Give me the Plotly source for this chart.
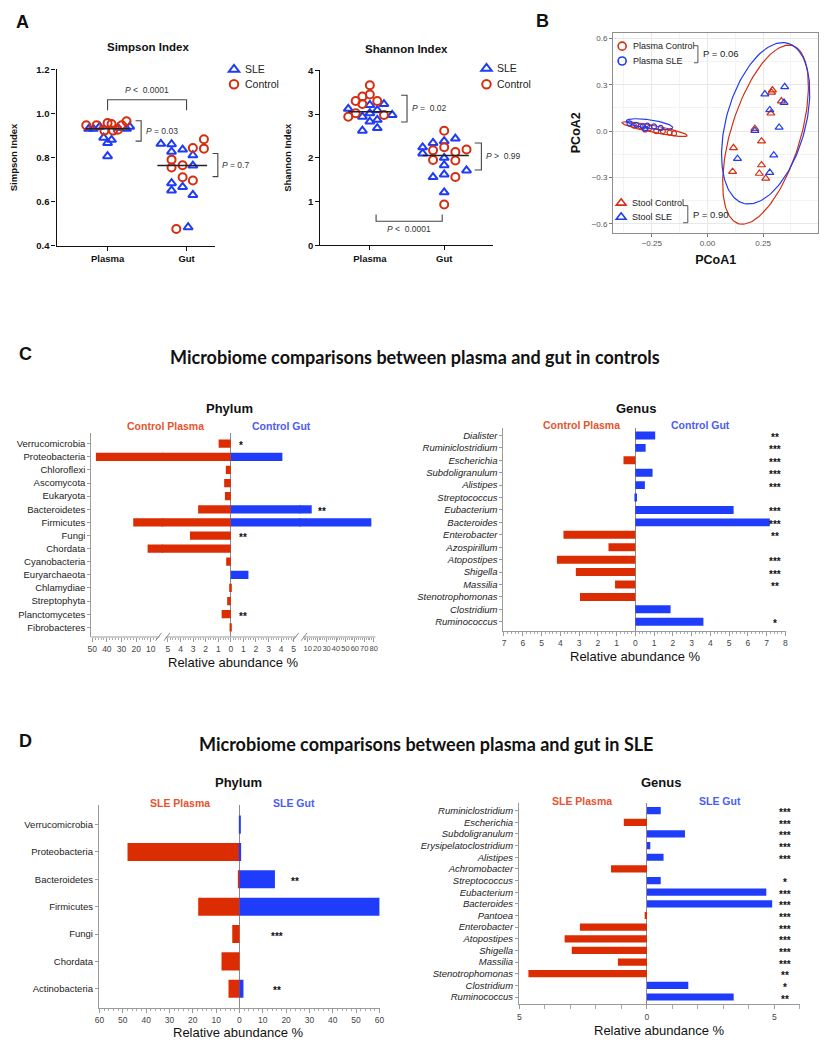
import numpy as np
import plotly.graph_objects as go

# The page body has an 8px margin, so the figure is drawn at 815x1034 and every
# position below is given in window pixels (831x1050) and converted.
WIN_W, WIN_H = 831, 1050
OFF = 8
W, H = WIN_W - 2 * OFF, WIN_H - 2 * OFF
FONT = "Liberation Sans, Arial, sans-serif"
RED = "#d42e10"
BLUE = "#1f3cf4"
BAR_RED = "#dc2c02"
BAR_BLUE = "#1f3cfa"
LBL_RED = "#e4552f"
LBL_BLUE = "#4d5cf3"

# ---------------- DATA ----------------
# Panel A - Simpson index
simp_plasma_ctrl = [0.946, 0.946, 0.956, 0.952, 0.922, 0.922, 0.926, 0.946, 0.964]
simp_plasma_sle = [0.93, 0.93, 0.94, 0.89, 0.866, 0.88, 0.806, 0.935, 0.93, 0.94]
simp_gut_ctrl = [0.79, 0.754, 0.765, 0.71, 0.843, 0.695, 0.883, 0.84, 0.475]
simp_gut_sle = [0.862, 0.86, 0.826, 0.683, 0.65, 0.836, 0.666, 0.81, 0.763, 0.63, 0.483]
# Panel A - Shannon index
shan_plasma_ctrl = [3.66, 3.45, 3.40, 3.30, 3.23, 3.30, 3.02, 2.94, 2.98]
shan_plasma_sle = [3.12, 3.21, 2.94, 3.02, 2.83, 3.09, 2.87, 2.68, 2.62, 3.23, 2.98]
shan_gut_ctrl = [2.62, 2.24, 2.17, 1.95, 2.13, 1.94, 2.19, 1.56, 0.93]
shan_gut_sle = [2.24, 2.10, 2.34, 2.38, 2.44, 2.0, 1.83, 1.62, 1.56, 1.71, 1.21]
groups = ["Plasma", "Gut"]

# Panel B - PCoA
pc_plasma_ctrl_x = [-0.33, -0.30, -0.28, -0.26, -0.23, -0.20, -0.17, -0.15]
pc_plasma_ctrl_y = [0.035, 0.03, 0.01, 0.02, 0.0, 0.0, -0.01, -0.015]
pc_plasma_sle_x = [-0.35, -0.32, -0.29, -0.27, -0.24, -0.21, -0.28]
pc_plasma_sle_y = [0.05, 0.04, 0.03, 0.035, 0.03, 0.02, 0.015]
pc_stool_ctrl_x = [0.292, 0.288, 0.332, 0.285, 0.213, 0.243, 0.117, 0.243, 0.113, 0.233, 0.262]
pc_stool_ctrl_y = [0.265, 0.25, 0.194, 0.115, 0.015, -0.066, -0.109, -0.22, -0.263, -0.275, -0.307]
pc_stool_sle_x = [0.347, 0.258, 0.344, 0.28, 0.322, 0.213, 0.135, 0.298, 0.28]
pc_stool_sle_y = [0.286, 0.239, 0.184, 0.137, 0.023, 0.002, -0.179, -0.156, -0.269]
# ellipse parameters: centre, semi-axis vector U, semi-axis vector V
ell_plasma_ctrl = [(-0.237, 0.012), (0.147, -0.042), (-0.003, -0.022)]
ell_plasma_sle = [(-0.26, 0.044), (0.104, -0.022), (-0.003, -0.028)]
ell_stool_ctrl = [(0.261, -0.0235), (0.122, 0.576), (0.149, -0.066)]
ell_stool_sle = [(0.2616, 0.050), (0.100, 0.518), (0.171, -0.069)]

# Panel C - controls
c_phy_cats = ["Verrucomicrobia", "Proteobacteria", "Chloroflexi", "Ascomycota", "Eukaryota",
              "Bacteroidetes", "Firmicutes", "Fungi", "Chordata", "Cyanobacteria",
              "Euryarchaeota", "Chlamydiae", "Streptophyta", "Planctomycetes", "Fibrobacteres"]
c_phy_plasma = [0.97, 47.5, 0.4, 0.53, 0.47, 2.6, 22.0, 3.25, 12.2, 0.37, 0, 0.13, 0.29, 0.73, 0.1]
c_phy_gut = [0, 4.1, 0, 0, 0, 14.2, 77.5, 0, 0, 0, 1.4, 0, 0, 0, 0]
c_phy_sig = ["*", "", "", "", "", "**", "", "**", "", "", "", "", "", "**", ""]

c_gen_cats = ["Dialister", "Ruminiclostridium", "Escherichia", "Subdoligranulum", "Alistipes",
              "Streptococcus", "Eubacterium", "Bacteroides", "Enterobacter", "Azospirillum",
              "Atopostipes", "Shigella", "Massilia", "Stenotrophomonas", "Clostridium", "Ruminococcus"]
c_gen_plasma = [0, 0, 0.63, 0, 0, 0, 0, 0, 3.83, 1.43, 4.18, 3.17, 1.08, 2.95, 0, 0]
c_gen_gut = [1.06, 0.55, 0, 0.92, 0.51, 0.09, 5.24, 7.17, 0, 0, 0, 0, 0, 0, 1.88, 3.63]
c_gen_sig = ["**", "***", "***", "***", "***", "", "***", "***", "**", "", "***", "***", "**", "", "", "*"]

# Panel D - SLE
d_phy_cats = ["Verrucomicrobia", "Proteobacteria", "Bacteroidetes", "Firmicutes", "Fungi",
              "Chordata", "Actinobacteria"]
d_phy_plasma = [0, 48.0, 0.7, 17.7, 3.1, 7.7, 4.7]
d_phy_gut = [0.5, 0.7, 15.2, 60.0, 0, 0, 1.7]
d_phy_sig = ["", "", "**", "***", "***", "", "**"]

d_gen_cats = ["Ruminiclostridium", "Escherichia", "Subdoligranulum", "Erysipelatoclostridium",
              "Alistipes", "Achromobacter", "Streptococcus", "Eubacterium", "Bacteroides",
              "Pantoea", "Enterobacter", "Atopostipes", "Shigella", "Massilia",
              "Stenotrophomonas", "Clostridium", "Ruminococcus"]
d_gen_plasma = [0, 0.91, 0, 0, 0, 1.41, 0, 0, 0, 0.09, 2.63, 3.23, 2.95, 1.14, 4.65, 0, 0]
d_gen_gut = [0.54, 0, 1.49, 0.13, 0.65, 0, 0.54, 4.68, 4.91, 0, 0, 0, 0, 0, 0, 1.62, 3.40]
d_gen_sig = ["***", "***", "***", "***", "***", "", "*", "***", "***", "***", "***", "***",
             "***", "***", "**", "*", "**"]

# ---------------- LAYOUT HELPERS (positions / styles) ----------------
simp_plasma_ctrl_dx = [-0.27, -0.14, 0, 0.05, -0.04, 0.07, 0.13, 0.18, 0.24]
simp_plasma_sle_dx = [-0.24, -0.18, -0.10, -0.05, 0, 0.05, 0, 0.13, 0.24, 0.28]
simp_gut_ctrl_dx = [-0.19, -0.19, -0.05, -0.05, 0.08, 0.08, 0.22, 0.22, -0.13]
simp_gut_sle_dx = [-0.325, -0.19, -0.19, -0.19, -0.19, -0.05, -0.05, 0.08, 0.08, 0.08, 0.02]
shan_plasma_ctrl_dx = [0, 0, -0.10, -0.19, -0.10, 0.10, -0.19, -0.29, 0.19]
shan_plasma_sle_dx = [-0.29, 0, -0.10, 0, 0, 0.10, 0.10, 0.10, -0.10, 0.19, 0.30]
shan_gut_ctrl_dx = [0, 0, -0.15, -0.15, 0.15, 0.15, 0.30, 0.15, 0]
shan_gut_sle_dx = [-0.29, -0.29, -0.15, 0, 0.15, 0, 0, 0, -0.15, 0.30, 0]


def px(x):
    return (x - OFF) / W


def py(y):
    return 1 - (y - OFF) / H


SIMP = dict(x0=53, x1=213, y0=64, y1=242, xr=(0.354, 2.36), yr=(0.4, 1.2))
SHAN = dict(x0=319.3, x1=493.3, y0=65, y1=241.7, xr=(0.333, 2.65), yr=(0.0, 4.0))


def to_paper(p, xd, yd):
    fx = (xd - p["xr"][0]) / (p["xr"][1] - p["xr"][0])
    fy = (yd - p["yr"][0]) / (p["yr"][1] - p["yr"][0])
    X = p["x0"] + fx * (p["x1"] - p["x0"])
    Y = p["y1"] - fy * (p["y1"] - p["y0"])
    return px(X), py(Y)


def bracket_path(p, pts):
    out = []
    for i, (xd, yd) in enumerate(pts):
        X, Y = to_paper(p, xd, yd)
        out.append(("M" if i == 0 else "L") + f"{X:.5f},{Y:.5f}")
    return " ".join(out)


def px_path(pts):
    return " ".join(("M" if i == 0 else "L") + f"{px(a):.5f},{py(b):.5f}" for i, (a, b) in enumerate(pts))


fig = go.Figure()
shapes = []
annotations = []


def ann(x, y, text, size=10, color="#111", bold=False, italic=False, xanchor="center",
        family=FONT):
    annotations.append(dict(
        x=px(x), y=py(y), xref="paper", yref="paper", text=text, showarrow=False,
        xanchor=xanchor, yanchor="middle",
        font=dict(size=size, color=color, family=family,
                  weight="bold" if bold else "normal", style="italic" if italic else "normal")))


legends = {}
legend_count = [0]


def legend_key(sym_x, sym_y):
    legend_count[0] += 1
    key = "legend" if legend_count[0] == 1 else f"legend{legend_count[0]}"
    legends[key] = dict(x=px(sym_x - 19), y=py(sym_y), xanchor="left", yanchor="middle",
                        bgcolor="rgba(0,0,0,0)", borderwidth=0, font=dict(size=6))
    return key


def legend_entry(xa, ya, sym, col, size, lw, sym_x, sym_y, label, fsize):
    key = legend_key(sym_x, sym_y)
    fig.add_trace(go.Scatter(x=[None], y=[None], mode="markers", name=" ", xaxis=xa, yaxis=ya,
                             legend=key, showlegend=True,
                             marker=dict(symbol=sym, size=size, color=col, line=dict(width=lw, color=col))))
    ann(sym_x + 10, sym_y, label, size=fsize, color="#222", xanchor="left")


# ---------------- PANEL A ----------------
def add_strip(xa, ya, pv, pdx, gv, gdx, name, sym, col):
    xs = [1 + d for d in pdx] + [2 + d for d in gdx]
    fig.add_trace(go.Scatter(x=xs, y=pv + gv, mode="markers", name=name, xaxis=xa, yaxis=ya,
                             showlegend=False, cliponaxis=False,
                             marker=dict(symbol=sym, size=8, color=col, line=dict(width=2, color=col))))


add_strip("x", "y", simp_plasma_sle, simp_plasma_sle_dx, simp_gut_sle, simp_gut_sle_dx,
          "SLE", "triangle-up-open", BLUE)
add_strip("x", "y", simp_plasma_ctrl, simp_plasma_ctrl_dx, simp_gut_ctrl, simp_gut_ctrl_dx,
          "Control", "circle-open", RED)
add_strip("x2", "y2", shan_plasma_sle, shan_plasma_sle_dx, shan_gut_sle, shan_gut_sle_dx,
          "SLE", "triangle-up-open", BLUE)
add_strip("x2", "y2", shan_plasma_ctrl, shan_plasma_ctrl_dx, shan_gut_ctrl, shan_gut_ctrl_dx,
          "Control", "circle-open", RED)

# median lines
for xa, ya, vals, c, l, r in [
    ("x", "y", simp_plasma_ctrl + simp_plasma_sle, 1, 0.28, 0.28),
    ("x", "y", simp_gut_ctrl + simp_gut_sle, 2, 0.37, 0.26),
    ("x2", "y2", shan_plasma_ctrl + shan_plasma_sle, 1, 0.29, 0.30),
    ("x2", "y2", shan_gut_ctrl + shan_gut_sle, 2, 0.29, 0.33),
]:
    m = float(np.median(vals))
    fig.add_trace(go.Scatter(x=[c - l, c + r], y=[m, m], mode="lines", xaxis=xa, yaxis=ya,
                             line=dict(color="#222", width=1.5), showlegend=False, hoverinfo="skip"))

legend_entry("x", "y", "triangle-up-open", BLUE, 9, 2, 231, 64, "SLE", 10.5)
legend_entry("x", "y", "circle-open", RED, 8.5, 2, 231, 79, "Control", 10.5)
legend_entry("x2", "y2", "triangle-up-open", BLUE, 9, 2, 486, 63, "SLE", 10.5)
legend_entry("x2", "y2", "circle-open", RED, 8.5, 2, 486, 79, "Control", 10.5)

# brackets panel A
br_style = dict(type="path", xref="paper", yref="paper", line=dict(color="#444", width=1.1))
shapes.append(dict(path=bracket_path(SIMP, [(1, 1.015), (1, 1.062), (2, 1.062), (2, 1.015)]), **br_style))
shapes.append(dict(path=bracket_path(SIMP, [(1.354, 0.967), (1.425, 0.967), (1.425, 0.874), (1.354, 0.874)]), **br_style))
shapes.append(dict(path=bracket_path(SIMP, [(2.329, 0.818), (2.396, 0.818), (2.396, 0.713), (2.329, 0.713)]), **br_style))
shapes.append(dict(path=bracket_path(SHAN, [(1.42, 3.43), (1.5, 3.43), (1.5, 2.82), (1.42, 2.82)]), **br_style))
shapes.append(dict(path=bracket_path(SHAN, [(2.41, 2.34), (2.5, 2.34), (2.5, 1.72), (2.41, 1.72)]), **br_style))
shapes.append(dict(path=bracket_path(SHAN, [(1.084, 0.70), (1.084, 0.55), (1.973, 0.55), (1.973, 0.70)]), **br_style))

for p, xd, yd, txt, anchor in [
    (SIMP, 1.5, 1.105, "<i>P</i> &lt;  0.0001", "center"),
    (SIMP, 1.46, 0.921, "<i>P</i> = 0.03", "left"),
    (SIMP, 2.42, 0.764, "<i>P</i> = 0.7", "left"),
    (SHAN, 1.54, 3.15, "<i>P</i> =  0.02", "left"),
    (SHAN, 2.54, 2.05, "<i>P</i> &gt;  0.99", "left"),
    (SHAN, 1.53, 0.36, "<i>P</i> &lt;  0.0001", "center"),
]:
    X, Y = to_paper(p, xd, yd)
    annotations.append(dict(x=X, y=Y, xref="paper", yref="paper", text=txt, showarrow=False,
                            xanchor=anchor, yanchor="middle", font=dict(size=8.5, color="#333", family=FONT)))

ann(18.5, 16, "A", size=18, bold=True)
ann(145, 41, "Simpson Index", size=11.5, bold=True)
ann(406.7, 43, "Shannon Index", size=11.5, bold=True)

axA = dict(showline=True, linecolor="#111", linewidth=1.3, ticks="outside", ticklen=4, tickwidth=1.2,
           tickcolor="#111", showgrid=False, zeroline=False,
           tickfont=dict(size=9.5, color="#111", family=FONT, weight="bold"))

# ---------------- PANEL B ----------------
def ellipse(par, n=160):
    c, U, V = par
    t = np.linspace(0, 2 * np.pi, n)
    return c[0] + U[0] * np.cos(t) + V[0] * np.sin(t), c[1] + U[1] * np.cos(t) + V[1] * np.sin(t)


for par, col in [(ell_plasma_ctrl, RED), (ell_plasma_sle, BLUE), (ell_stool_ctrl, RED), (ell_stool_sle, BLUE)]:
    ex, ey = ellipse(par)
    fig.add_trace(go.Scatter(x=ex, y=ey, mode="lines", xaxis="x3", yaxis="y3", showlegend=False,
                             line=dict(color=col, width=1.2), hoverinfo="skip"))

for xs, ys, name, sym, col, size in [
    (pc_plasma_ctrl_x, pc_plasma_ctrl_y, "Plasma Control", "circle-open", RED, 5),
    (pc_plasma_sle_x, pc_plasma_sle_y, "Plasma SLE", "circle-open", BLUE, 5),
    (pc_stool_ctrl_x, pc_stool_ctrl_y, "Stool Control", "triangle-up-open", RED, 7),
    (pc_stool_sle_x, pc_stool_sle_y, "Stool SLE", "triangle-up-open", BLUE, 7),
]:
    fig.add_trace(go.Scatter(x=xs, y=ys, mode="markers", name=name, xaxis="x3", yaxis="y3",
                             showlegend=False,
                             marker=dict(symbol=sym, size=size, color=col, line=dict(width=1.2, color=col))))

legend_entry("x3", "y3", "circle-open", RED, 8, 1.6, 623, 40.5, "Plasma Control", 9)
legend_entry("x3", "y3", "circle-open", BLUE, 8, 1.6, 623, 55.5, "Plasma SLE", 9)
legend_entry("x3", "y3", "triangle-up-open", RED, 8.5, 1.6, 622, 199, "Stool Control", 9)
legend_entry("x3", "y3", "triangle-up-open", BLUE, 8.5, 1.6, 622, 213.3, "Stool SLE", 9)

ann(544, 15, "B", size=18, bold=True)
lb = dict(type="path", xref="paper", yref="paper", line=dict(color="#555", width=1))
shapes.append(dict(path=px_path([(696.7, 40), (700.7, 40), (700.7, 57.3), (696.7, 57.3)]), **lb))
shapes.append(dict(path=px_path([(685.7, 201.7), (690.5, 201.7), (690.5, 219), (685.7, 219)]), **lb))
ann(704, 48, "P = 0.06", size=9.5, color="#222", xanchor="left")
ann(693.5, 211, "P = 0.90", size=9.5, color="#222", xanchor="left")

axB = dict(showline=True, mirror=True, linecolor="#8f8f8f", linewidth=1, ticks="outside", ticklen=3,
           tickcolor="#777", showgrid=True, gridcolor="#e8e8e8", gridwidth=1, zeroline=False,
           tickfont=dict(size=8, color="#555", family=FONT))

# ---------------- PANELS C / D (bars) ----------------
def add_bars(cats, plasma, gut, xa, ya, width):
    fig.add_trace(go.Bar(y=cats, x=[-v for v in plasma], orientation="h", width=width, opacity=1,
                         name="Plasma", marker=dict(color=BAR_RED, line=dict(width=0)),
                         xaxis=xa, yaxis=ya, showlegend=False, hoverinfo="skip"))
    fig.add_trace(go.Bar(y=cats, x=gut, orientation="h", width=width, opacity=1,
                         name="Gut", marker=dict(color=BAR_BLUE, line=dict(width=0)),
                         xaxis=xa, yaxis=ya, showlegend=False, hoverinfo="skip"))


# broken x-axis of panel C phylum: left (plasma > 5), middle (0-5), right (gut > 5)
MID_LEFT, MID_RIGHT = 5.433, 5.472
zeros = [0] * len(c_phy_cats)
add_bars(c_phy_cats, [v if v > MID_LEFT else 0 for v in c_phy_plasma], zeros, "x4", "y4", 0.63)
add_bars(c_phy_cats, c_phy_plasma, c_phy_gut, "x5", "y4", 0.63)
add_bars(c_phy_cats, zeros, [v if v > MID_RIGHT else 0 for v in c_phy_gut], "x6", "y4", 0.63)
add_bars(c_gen_cats, c_gen_plasma, c_gen_gut, "x7", "y7", 0.64)
add_bars(d_phy_cats, d_phy_plasma, d_phy_gut, "x8", "y8", 0.66)
add_bars(d_gen_cats, d_gen_plasma, d_gen_gut, "x9", "y9", 0.62)


def cat_yaxis(y_top, y_bot, cats, rng, anchor, italic=False):
    return dict(domain=[py(y_bot), py(y_top)], type="category", categoryorder="array",
                categoryarray=cats, range=rng, anchor=anchor, showline=True, linecolor="#9a9a9a",
                linewidth=1, ticks="outside", ticklen=3, tickcolor="#9a9a9a", showgrid=False,
                zeroline=False, fixedrange=True,
                tickfont=dict(size=9.5, color="#222", family=FONT, style="italic" if italic else "normal"))


def bar_xaxis(x_left, x_right, rng, tickvals, minor, anchor, zeroline=True, showline=True,
              fsize=8.5):
    mn = dict(ticks="outside", ticklen=2, tickcolor="#aaaaaa")
    mn.update(minor)
    return dict(domain=[px(x_left), px(x_right)], range=rng, anchor=anchor, tickvals=tickvals,
                ticktext=[f"{abs(v):g}" for v in tickvals], showline=showline, linecolor="#9a9a9a",
                linewidth=1, ticks="outside", ticklen=4, tickcolor="#9a9a9a", tickangle=0,
                minor=mn,
                showgrid=False, zeroline=zeroline, zerolinecolor="#8a8a8a", zerolinewidth=1.3,
                tickfont=dict(size=fsize, color="#444", family=FONT))


# significance stars
def star(text, xa, ya, xv, cat):
    annotations.append(dict(x=xv, y=cat, xref=xa, yref=ya, text=text, showarrow=False,
                            xanchor="center", yanchor="middle", yshift=-2,
                            font=dict(size=10, color="#111", family=FONT, weight="bold")))


c_phy_star_pos = {"Verrucomicrobia": ("x5", 0.8), "Bacteroidetes": ("x6", 24.7),
                  "Fungi": ("x5", 1.0), "Planctomycetes": ("x5", 1.0)}
for cat, s in zip(c_phy_cats, c_phy_sig):
    if s:
        xa, xv = c_phy_star_pos[cat]
        star(s, xa, "y4", xv, cat)
for cat, s in zip(c_gen_cats, c_gen_sig):
    if s:
        star(s, "x7", "y7", 7.44, cat)
d_phy_star_x = {"Bacteroidetes": 23.8, "Firmicutes": 66.8, "Fungi": 16.2, "Actinobacteria": 16.2}
for cat, s in zip(d_phy_cats, d_phy_sig):
    if s:
        star(s, "x8", "y8", d_phy_star_x[cat], cat)
for cat, s in zip(d_gen_cats, d_gen_sig):
    if s:
        star(s, "x9", "y9", 5.42, cat)

# broken-axis lines and marks (panel C phylum)
for a, b in [(88, 157), (163, 295), (302, 375)]:
    shapes.append(dict(type="line", xref="paper", yref="paper", x0=px(a), x1=px(b),
                       y0=py(637.7), y1=py(637.7), line=dict(color="#9a9a9a", width=1)))
for xb in [156, 164.5, 294.5, 303]:
    shapes.append(dict(type="line", xref="paper", yref="paper", x0=px(xb - 3), y0=py(641.5),
                       x1=px(xb + 3), y1=py(633.5), line=dict(color="#8a8a8a", width=1)))

# headers
TFONT = "Lato, Open Sans, sans-serif"
ann(22, 352, "C", size=18, bold=True)
ann(415, 355, "Microbiome comparisons between plasma and gut in controls", size=18, bold=True, family=TFONT)
ann(228, 407, "Phylum", size=13, bold=True)
ann(163, 424, "Control Plasma", size=10.5, bold=True, color=LBL_RED)
ann(280, 424, "Control Gut", size=10.5, bold=True, color=LBL_BLUE)
ann(638, 407, "Genus", size=13, bold=True)
ann(583, 423, "Control Plasma", size=10.5, bold=True, color=LBL_RED)
ann(703, 423, "Control Gut", size=10.5, bold=True, color=LBL_BLUE)
ann(232, 663, "Relative abundance %", size=13)
ann(638, 657, "Relative abundance %", size=13)

ann(22, 743, "D", size=18, bold=True)
ann(426, 746, "Microbiome comparisons between plasma and gut in SLE", size=18, bold=True, family=TFONT)
ann(237, 785, "Phylum", size=13, bold=True)
ann(178, 805, "SLE Plasma", size=10.5, bold=True, color=LBL_RED)
ann(293, 805, "SLE Gut", size=10.5, bold=True, color=LBL_BLUE)
ann(663, 785, "Genus", size=13, bold=True)
ann(584, 803, "SLE Plasma", size=10.5, bold=True, color=LBL_RED)
ann(723, 803, "SLE Gut", size=10.5, bold=True, color=LBL_BLUE)
ann(237, 1037, "Relative abundance %", size=13)
ann(662, 1035, "Relative abundance %", size=13)

fig.update_layout(
    width=W, height=H, margin=dict(l=0, r=0, t=0, b=0),
    paper_bgcolor="white", plot_bgcolor="rgba(0,0,0,0)",
    font=dict(family=FONT, color="#111"),
    barmode="overlay", hovermode=False,
    showlegend=True,
    xaxis=dict(domain=[px(53), px(213)], range=list(SIMP["xr"]), tickvals=[1, 2], ticktext=groups,
               anchor="y", **axA),
    yaxis=dict(domain=[py(242), py(64)], range=list(SIMP["yr"]), tickvals=[0.4, 0.6, 0.8, 1.0, 1.2],
               tickformat=".1f", anchor="x",
               title=dict(text="Simpson Index", font=dict(size=9.5, weight="bold", family=FONT), standoff=16),
               **axA),
    xaxis2=dict(domain=[px(319.3), px(493.3)], range=list(SHAN["xr"]), tickvals=[1, 2], ticktext=groups,
                anchor="y2", **axA),
    yaxis2=dict(domain=[py(241.7), py(65)], range=list(SHAN["yr"]), tickvals=[0, 1, 2, 3, 4], anchor="x2",
                title=dict(text="Shannon Index", font=dict(size=9.5, weight="bold", family=FONT), standoff=14),
                **axA),
    xaxis3=dict(domain=[px(615), px(822.3)], range=[-0.424, 0.498], tickvals=[-0.25, 0, 0.25],
                tickformat=".2f", anchor="y3",
                minor=dict(showgrid=True, gridcolor="#f3f3f3", dtick=0.125, tick0=0),
                title=dict(text="PCoA1", font=dict(size=12.5, weight="bold", family=FONT), standoff=8),
                **axB),
    yaxis3=dict(domain=[py(229), py(27)], range=[-0.658, 0.636], tickvals=[-0.6, -0.3, 0, 0.3, 0.6],
                tickformat=".1f", anchor="x3",
                minor=dict(showgrid=True, gridcolor="#f3f3f3", dtick=0.15, tick0=0),
                title=dict(text="PCoA2", font=dict(size=12.5, weight="bold", family=FONT), standoff=8),
                **axB),
    yaxis4=cat_yaxis(432, 637.7, c_phy_cats, [14.74, -0.78], "x4"),
    xaxis4=bar_xaxis(88, 160.7, [-50.68, -1.55], [-50, -40, -30, -20, -10],
                     dict(tickmode="array", tickvals=list(range(-50, -5, 2))), "y4",
                     zeroline=False, showline=False),
    xaxis5=bar_xaxis(159.3, 299.2, [-5.488, 5.528], list(range(-5, 6)),
                     dict(tickmode="array", tickvals=[round(v, 1) for v in np.arange(-5, 5.01, 0.2)]),
                     "y4", showline=False),
    xaxis6=bar_xaxis(297.8, 375, [0.64, 81.82], list(range(10, 81, 10)),
                     dict(tickmode="array", tickvals=list(range(6, 81, 2))), "y4",
                     zeroline=False, showline=False, fsize=7.5),
    yaxis7=cat_yaxis(426.7, 631.7, c_gen_cats, [15.75, -0.58], "x7", italic=True),
    xaxis7=bar_xaxis(504.3, 790, [-7.03, 8.05], list(range(-7, 9)), dict(dtick=0.2), "y7"),
    yaxis8=cat_yaxis(808, 1012.3, d_phy_cats, [6.69, -0.70], "x8"),
    xaxis8=bar_xaxis(95.7, 380, [-60.3, 60.4], list(range(-60, 61, 10)), dict(dtick=2), "y8"),
    yaxis9=cat_yaxis(805, 1009, d_gen_cats, [16.63, -0.7], "x9", italic=True),
    xaxis9=bar_xaxis(520, 804.3, [-5.02, 6.02], [-5, 0, 5], dict(dtick=1, ticklen=4), "y9"),
    shapes=shapes,
    annotations=annotations,
    **legends,
)

fig.write_html("out.html")
